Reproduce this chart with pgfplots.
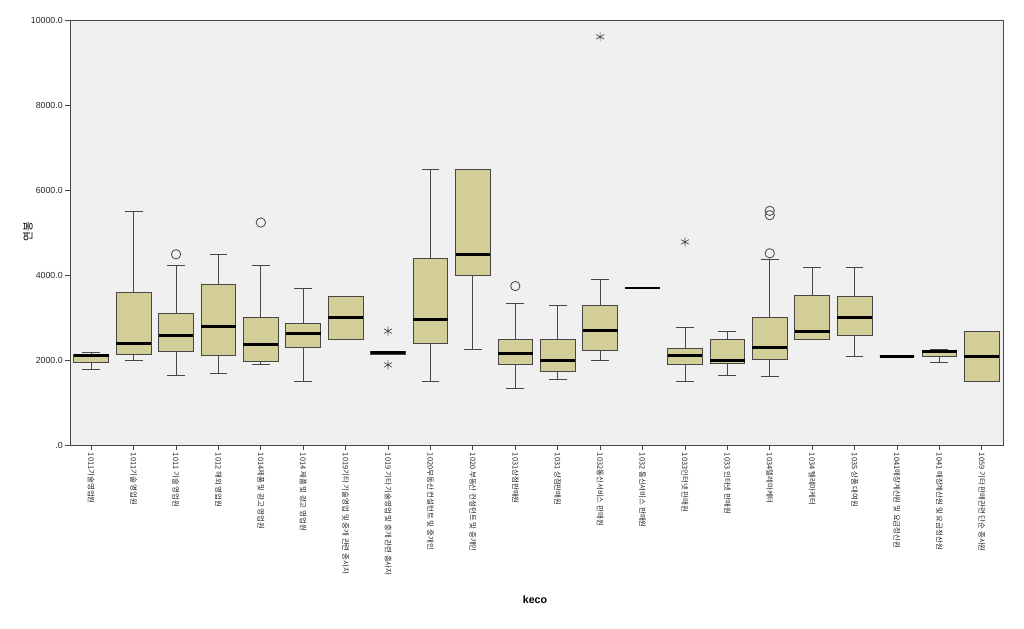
\documentclass[border=0pt]{standalone}
\usepackage{pgfplots}
\pgfplotsset{compat=1.18}
\usepackage{fontspec}
\setmainfont{Liberation Sans}
\newfontfamily\kr{Noto Sans CJK KR}
\definecolor{boxfill}{RGB}{211,206,151}
\definecolor{bg}{RGB}{240,240,240}
\definecolor{axgray}{RGB}{70,70,70}
\pgfplotsset{
  wh/.style={axgray, line width=0.6pt, mark=none},
  bxs/.style={draw=axgray, fill=boxfill, line width=0.6pt, mark=none},
  med/.style={black, line width=2.1pt, mark=none},
}
\newcommand{\bx}[6]{%
\pgfmathsetmacro{\xa}{#1-0.41}\pgfmathsetmacro{\xb}{#1+0.41}%
\pgfmathsetmacro{\ca}{#1-0.21}\pgfmathsetmacro{\cb}{#1+0.21}%
\addplot[wh] coordinates {(#1,#2) (#1,#3)};
\addplot[wh] coordinates {(#1,#5) (#1,#6)};
\addplot[wh] coordinates {(\ca,#2) (\cb,#2)};
\addplot[wh] coordinates {(\ca,#6) (\cb,#6)};
\addplot[bxs] coordinates {(\xa,#3) (\xb,#3) (\xb,#5) (\xa,#5)} --cycle;
\addplot[med] coordinates {(\xa,#4) (\xb,#4)};
}
\begin{document}
\begin{tikzpicture}
\path[use as bounding box, fill=white] (0,0) rectangle (768pt,471pt);
\begin{axis}[
  at={(52.5pt,137.25pt)}, anchor=south west,
  scale only axis, width=699.75pt, height=318.75pt,
  xmin=0.5, xmax=22.5, ymin=0, ymax=10000,
  scaled y ticks=false,
  axis background/.style={fill=bg},
  axis line style={axgray, line width=0.6pt},
  tick style={axgray, line width=0.6pt},
  tick align=outside, major tick length=3.75pt,
  xtick pos=left, ytick pos=left,
  ytick={0,2000,4000,6000,8000,10000},
  yticklabels={.0,2000.0,4000.0,6000.0,8000.0,10000.0},
  yticklabel style={font=\fontsize{6.6}{7}\selectfont, text=black!85, inner sep=1.5pt},
  xtick={1,...,22},
  xticklabels={1011기술영업원,1011기술 영업원,1011 기술 영업원,1012 해외 영업원,1014제품 및 광고 영업원,1014 제품 및 광고 영업원,1019기타 기술영업 및 중개 관련 종사자,1019 기타 기술영업 및 중개 관련 종사자,1020부동산 컨설턴트 및 중개인,1020 부동산 컨설턴트 및 중개인,1031상점판매원,1031 상점판매원,1032통신서비스 판매원,1032 통신서비스 판매원,1033인터넷 판매원,1033 인터넷 판매원,1034텔레마케터,1034 텔레마케터,1035 상품 대여원,1041매장계산원 및 요금정산원,1041 매장계산원 및 요금정산원,1059 기타 판매관련 단순 종사원},
  xticklabel style={rotate=-90, anchor=west, font=\kr\fontsize{5.6}{6.5}\selectfont, text=black!85, inner sep=2pt},
]
\bx{1}{1783}{1934}{2106}{2137}{2184}
\bx{2}{1988}{2137}{2389}{3584}{5485}
\bx{3}{1634}{2193}{2570}{3089}{4228}
\bx{4}{1688}{2113}{2797}{3787}{4487}
\bx{5}{1893}{1971}{2365}{2995}{4228}
\bx{6}{1485}{2287}{2632}{2868}{3686}
\bx{7}{2483}{2483}{2995}{3497}{3497}
\bx{8}{2137}{2137}{2170}{2207}{2207}
\bx{9}{1485}{2381}{2947}{4385}{6484}
\bx{10}{2254}{3992}{4487}{6484}{6484}
\bx{11}{1320}{1886}{2153}{2483}{3324}
\bx{12}{1532}{1721}{1988}{2483}{3277}
\bx{13}{1988}{2216}{2688}{3277}{3891}
\bx{14}{3695}{3695}{3695}{3695}{3695}
\bx{15}{1493}{1886}{2098}{2263}{2758}
\bx{16}{1634}{1910}{1988}{2476}{2680}
\bx{17}{1603}{2004}{2294}{2995}{4370}
\bx{18}{2483}{2483}{2672}{3528}{4188}
\bx{19}{2090}{2570}{2995}{3489}{4188}
\bx{20}{2090}{2090}{2090}{2090}{2090}
\bx{21}{1941}{2090}{2200}{2224}{2255}
\bx{22}{1485}{1485}{2090}{2680}{2680}
\addplot[only marks, mark=o, mark size=3.5pt, mark options={axgray, line width=0.6pt}] coordinates {(3,4487) (5,5235) (11,3740) (17,4510) (17,5407) (17,5509)};
\addplot[only marks, mark=asterisk, mark size=3.4pt, mark options={axgray, line width=0.5pt}] coordinates {(8,2679) (8,1886) (13,9604) (15,4778)};
\end{axis}
\node[font=\bfseries\fontsize{8}{9}\selectfont] at (401.25pt,21pt) {keco};
\node[rotate=90, font=\kr\fontsize{8}{9}\selectfont] at (21pt,297pt) {연봉};
\end{tikzpicture}
\end{document}
